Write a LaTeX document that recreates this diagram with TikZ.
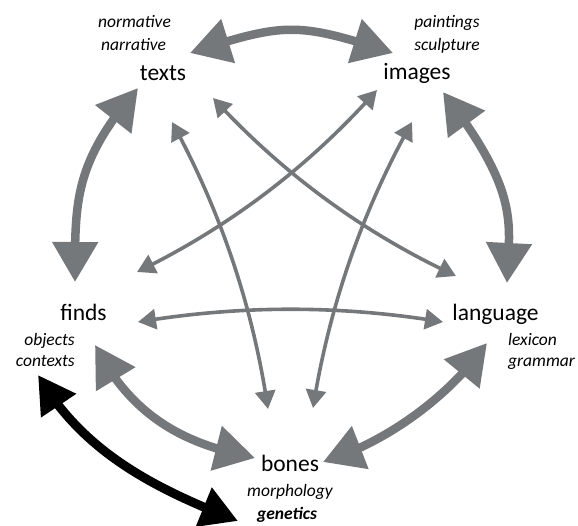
\documentclass[tikz,border=0pt]{standalone}
\usepackage{fontspec}
\setmainfont{Carlito}
\usetikzlibrary{arrows.meta,bending}
\definecolor{arrgray}{RGB}{117,120,123}
\begin{document}
\begin{tikzpicture}[x=1pt,y=-1pt,
  mainlbl/.style={font=\fontsize{23.5}{28}\selectfont, inner sep=0pt, anchor=base},
  sublbl/.style={font=\fontsize{17.5}{21}\selectfont\itshape, inner sep=0pt, anchor=base},
  bigarrow/.style={draw=arrgray, line width=8.5pt,
    {Triangle[length=40pt,width=44pt]}-{Triangle[length=40pt,width=44pt]}},
  blackarrow/.style={draw=black, line width=9pt,
    {Triangle[length=37pt,width=40pt]}-{Triangle[length=37pt,width=40pt]}},
  thinarrow/.style={draw=arrgray, line width=3.6pt,
    {Triangle[length=18pt,width=20pt]}-{Triangle[length=18pt,width=20pt]}}
]
\useasboundingbox (0,0) rectangle (578,525);

% labels
\node[mainlbl] (texts) at (163,80) {texts};
\node[sublbl] (normative) at (134.5,27) {normative};
\node[sublbl] (narrative) at (133.5,50) {narrative};
\node[mainlbl] (images) at (417,79) {images};
\node[sublbl] (paintings) at (447,27) {paintings};
\node[sublbl] (sculpture) at (447,50) {sculpture};
\node[mainlbl] (finds) at (83.5,320) {finds};
\node[sublbl,anchor=base east] (objects) at (75,345) {objects};
\node[sublbl,anchor=base east] (contexts) at (75,366) {contexts};
\node[mainlbl] (language) at (495.5,320) {language};
\node[sublbl,anchor=base west] (lexicon) at (508,345) {lexicon};
\node[sublbl,anchor=base west] (grammar) at (508,366.5) {grammar};
\node[mainlbl] (bones) at (290,471) {bones};
\node[sublbl] (morphology) at (290,496.5) {morphology};
\node[sublbl,font=\fontsize{17.5}{21}\selectfont\bfseries\itshape] (genetics) at (287,519) {genetics};

% connector end points
\coordinate (tI) at (190,53);
\coordinate (iT) at (393,53);
\coordinate (iL) at (443,92);
\coordinate (lI) at (507,283);
\coordinate (tF) at (138,88);
\coordinate (fT) at (75,282);
\coordinate (fB) at (95,345);
\coordinate (bF) at (255,458);
\coordinate (bL) at (323,462);
\coordinate (lB) at (487,343);
\coordinate (cG) at (38,375);
\coordinate (gC) at (238,521);
\coordinate (tB) at (172,122);
\coordinate (bT) at (268,409);
\coordinate (iB) at (412,122);
\coordinate (bI) at (313,408);
\coordinate (tL) at (213,98);
\coordinate (lT) at (456,276);
\coordinate (iF) at (377,90);
\coordinate (fI) at (137,272);
\coordinate (fL) at (138,322);
\coordinate (lF) at (443,322);

% thick outer arrows
\draw[bigarrow] (tI) .. controls (286,22) and (297,22) .. (iT);
\draw[bigarrow] (iL) .. controls (522,195) and (509,223) .. (lI);
\draw[bigarrow] (tF) .. controls (73,164) and (75,202) .. (fT);
\draw[bigarrow] (fB) .. controls (135.5,425) and (196,446) .. (bF);
\draw[bigarrow] (bL) .. controls (385.4,443.1) and (450,396.3) .. (lB);
\draw[blackarrow] (cG) .. controls (83,453) and (156,489) .. (gC);

% thin inner arrows
\draw[thinarrow] (tB) .. controls (221.1,212) and (253.1,307.6) .. (bT);
\draw[thinarrow] (iB) .. controls (362,211.4) and (329,306.8) .. (bI);
\draw[thinarrow] (tL) .. controls (282.2,173.4) and (363.2,232.8) .. (lT);
\draw[thinarrow] (iF) .. controls (309.1,166.6) and (229.1,227.2) .. (fI);
\draw[thinarrow] (fL) .. controls (240,305) and (341,305) .. (lF);
\end{tikzpicture}
\end{document}
